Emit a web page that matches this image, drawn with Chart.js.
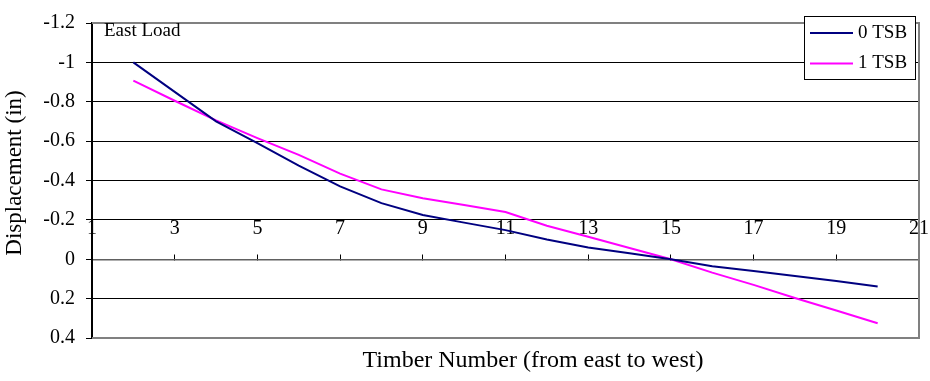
<!DOCTYPE html>
<html>
<head>
<meta charset="utf-8">
<script src="https://cdn.jsdelivr.net/npm/chart.js@4.4.0/dist/chart.umd.min.js"></script>
<style>
  body { margin: 0; background: #fff; }
  canvas { display: block; }
</style>
</head>
<body>
<canvas id="myChart" width="930" height="381"></canvas>
<script>
// timber positions and measured displacement (in), east load case
const timbers = [2, 3, 4, 5, 6, 7, 8, 9, 10, 11, 12, 13, 14, 15, 16, 17, 18, 19, 20];
const tsb0 = [-1.0, -0.85, -0.70, -0.59, -0.475, -0.37, -0.285, -0.225, -0.186, -0.148,
  -0.10, -0.06, -0.03, 0.0, 0.035, 0.06, 0.085, 0.11, 0.138];
const tsb1 = [-0.907, -0.805, -0.705, -0.615, -0.53, -0.435, -0.355, -0.31, -0.275, -0.24,
  -0.17, -0.114, -0.057, 0.0, 0.068, 0.13, 0.197, 0.26, 0.325];
const seriesNames = ["0 TSB", "1 TSB"];
const xTicks = [1, 3, 5, 7, 9, 11, 13, 15, 17, 19, 21];
const yTicks = [-1.2, -1, -0.8, -0.6, -0.4, -0.2, 0, 0.2, 0.4];

const FONT = "'Liberation Serif', 'Times New Roman', serif";

function toPoints(values) {
  return timbers.map((t, i) => ({ x: t, y: values[i] }));
}

// frame, titles, note and legend drawn on top of the chart
const extras = {
  id: "extras",
  beforeDatasetsDraw(chart) {
    const { ctx, chartArea: a } = chart;
    ctx.save();
    ctx.strokeStyle = "#808080";
    ctx.lineWidth = 2;
    ctx.beginPath();
    ctx.moveTo(a.left, a.top);
    ctx.lineTo(a.right, a.top);
    ctx.lineTo(a.right, a.bottom);
    ctx.lineTo(a.left, a.bottom);
    ctx.stroke();
    ctx.restore();
  },
  afterDraw(chart) {
    const { ctx } = chart;
    ctx.save();
    ctx.fillStyle = "#000";

    ctx.font = "19px " + FONT;
    ctx.textAlign = "left";
    ctx.textBaseline = "middle";
    ctx.fillText("East Load", 104, 31);

    ctx.font = "24px " + FONT;
    ctx.textAlign = "center";
    ctx.fillText("Timber Number (from east to west)", 533, 361);

    ctx.font = "23px " + FONT;
    ctx.save();
    ctx.translate(15, 173);
    ctx.rotate(-Math.PI / 2);
    ctx.fillText("Displacement (in)", 0, 0);
    ctx.restore();

    // legend box
    const bx = 804, by = 16, bw = 111, bh = 63;
    ctx.fillStyle = "#fff";
    ctx.fillRect(bx, by, bw, bh);
    ctx.strokeStyle = "#000";
    ctx.lineWidth = 1;
    ctx.strokeRect(bx + 0.5, by + 0.5, bw, bh);
    ctx.font = "19px " + FONT;
    ctx.textAlign = "left";
    chart.data.datasets.forEach((ds, i) => {
      const y = by + 17 + i * 30.5;
      ctx.strokeStyle = ds.borderColor;
      ctx.lineWidth = 2;
      ctx.beginPath();
      ctx.moveTo(bx + 6, y);
      ctx.lineTo(bx + 49, y);
      ctx.stroke();
      ctx.fillStyle = "#000";
      ctx.fillText(ds.label, bx + 54, y);
    });
    ctx.restore();
  }
};

new Chart("myChart", {
  type: "line",
  data: {
    datasets: [
      {
        label: seriesNames[0],
        data: toPoints(tsb0),
        borderColor: "#000080",
        borderWidth: 2,
        pointRadius: 0,
        tension: 0
      },
      {
        label: seriesNames[1],
        data: toPoints(tsb1),
        borderColor: "#ff00ff",
        borderWidth: 2,
        pointRadius: 0,
        tension: 0
      }
    ]
  },
  options: {
    responsive: false,
    animation: false,
    layout: { padding: { left: 0, top: 17, right: 11, bottom: 43 } },
    plugins: {
      legend: { display: false },
      tooltip: { enabled: false }
    },
    scales: {
      x: {
        type: "linear",
        position: { y: 0 },
        min: 1,
        max: 21,
        afterBuildTicks(scale) {
          scale.ticks = xTicks.map((v) => ({ value: v }));
        },
        border: { color: "#606060", width: 1.5 },
        grid: { drawOnChartArea: false, drawTicks: true, tickLength: -6, color: "#000" },
        ticks: {
          color: "#000",
          font: { family: FONT, size: 20 },
          padding: -37,
          maxRotation: 0,
          autoSkip: false
        }
      },
      y: {
        reverse: true,
        min: -1.2,
        max: 0.4,
        afterBuildTicks(scale) {
          scale.ticks = yTicks.map((v) => ({ value: v }));
        },
        afterFit(scale) {
          scale.width = 92;
        },
        border: { color: "#000", width: 2 },
        grid: { color: "#000", lineWidth: 1, tickLength: 6, drawTicks: true },
        ticks: {
          color: "#000",
          font: { family: FONT, size: 20 },
          padding: 11,
          callback: (v) => String(Math.round(v * 10) / 10)
        }
      }
    }
  },
  plugins: [extras]
});
</script>
</body>
</html>
